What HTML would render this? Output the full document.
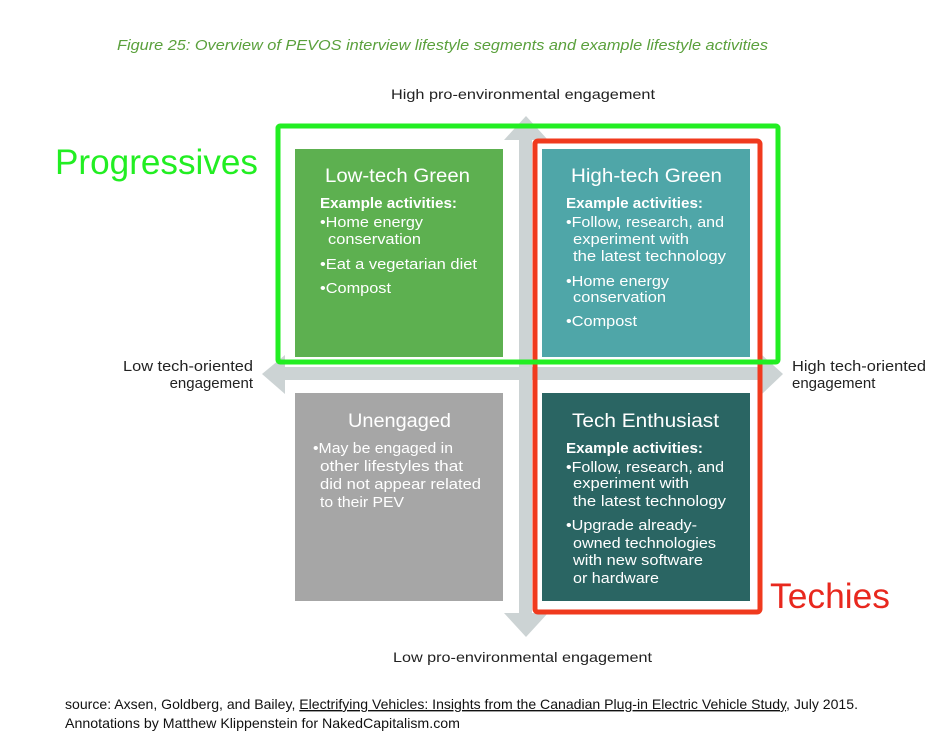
<!DOCTYPE html>
<html><head><style>body{margin:0;background:#fff}svg{display:block}</style></head><body>
<svg width="951" height="740" viewBox="0 0 951 740" xmlns="http://www.w3.org/2000/svg" font-family="Liberation Sans, sans-serif">
<rect width="951" height="740" fill="#fff"/>
<text x="117" y="50" font-size="15" font-style="italic" fill="#5aa03c" textLength="651" lengthAdjust="spacingAndGlyphs">Figure 25: Overview of PEVOS interview lifestyle segments and example lifestyle activities</text>
<text x="391" y="99" font-size="14" fill="#222" textLength="264" lengthAdjust="spacingAndGlyphs">High pro-environmental engagement</text>
<text x="393" y="662" font-size="14" fill="#222" textLength="259" lengthAdjust="spacingAndGlyphs">Low pro-environmental engagement</text>
<g font-size="15" fill="#222">
<text x="123" y="371" textLength="130" lengthAdjust="spacingAndGlyphs">Low tech-oriented</text>
<text x="253" y="388" text-anchor="end">engagement</text>
<text x="792" y="371" textLength="134" lengthAdjust="spacingAndGlyphs">High tech-oriented</text>
<text x="792" y="388">engagement</text>
</g>
<!-- axes -->
<g fill="#ccd3d4">
<rect x="519" y="140" width="13" height="475"/>
<polygon points="504,140 526,116 548,140"/>
<polygon points="504,613 526,637 548,613"/>
<rect x="282" y="367" width="482" height="13"/>
<polygon points="285,355 262,374 285,394"/>
<polygon points="762,355 783,374 762,394"/>
</g>
<!-- boxes -->
<rect x="295" y="149" width="208" height="208" fill="#5db050"/>
<rect x="542" y="149" width="208" height="208" fill="#4fa6a8"/>
<rect x="295" y="393" width="208" height="208" fill="#a6a6a6"/>
<rect x="542" y="393" width="208" height="208" fill="#2a6563"/>
<g fill="#fff">
<text x="325" y="182" font-size="19" textLength="145" lengthAdjust="spacingAndGlyphs">Low-tech Green</text>
<text x="571" y="182" font-size="19" textLength="151" lengthAdjust="spacingAndGlyphs">High-tech Green</text>
<text x="348" y="427" font-size="19" textLength="103" lengthAdjust="spacingAndGlyphs">Unengaged</text>
<text x="572" y="427" font-size="19" textLength="147" lengthAdjust="spacingAndGlyphs">Tech Enthusiast</text>
<g font-size="15" font-weight="bold">
<text x="320" y="208" textLength="137" lengthAdjust="spacingAndGlyphs">Example activities:</text>
<text x="566" y="208" textLength="137" lengthAdjust="spacingAndGlyphs">Example activities:</text>
<text x="566" y="453" textLength="137" lengthAdjust="spacingAndGlyphs">Example activities:</text>
</g>
<g font-size="15">
<text x="320" y="227" textLength="103" lengthAdjust="spacingAndGlyphs">•Home energy</text>
<text x="328" y="244" textLength="93" lengthAdjust="spacingAndGlyphs">conservation</text>
<text x="320" y="269" textLength="157" lengthAdjust="spacingAndGlyphs">•Eat a vegetarian diet</text>
<text x="320" y="293" textLength="71" lengthAdjust="spacingAndGlyphs">•Compost</text>

<text x="566" y="227" textLength="158" lengthAdjust="spacingAndGlyphs">•Follow, research, and</text>
<text x="573" y="244" textLength="116" lengthAdjust="spacingAndGlyphs">experiment with</text>
<text x="573" y="261" textLength="153" lengthAdjust="spacingAndGlyphs">the latest technology</text>
<text x="566" y="286" textLength="103" lengthAdjust="spacingAndGlyphs">•Home energy</text>
<text x="573" y="302" textLength="93" lengthAdjust="spacingAndGlyphs">conservation</text>
<text x="566" y="326" textLength="71" lengthAdjust="spacingAndGlyphs">•Compost</text>

<text x="313" y="453" textLength="140" lengthAdjust="spacingAndGlyphs">•May be engaged in</text>
<text x="320" y="471" textLength="143" lengthAdjust="spacingAndGlyphs">other lifestyles that</text>
<text x="320" y="489" textLength="161" lengthAdjust="spacingAndGlyphs">did not appear related</text>
<text x="320" y="507" textLength="84" lengthAdjust="spacingAndGlyphs">to their PEV</text>

<text x="566" y="472" textLength="158" lengthAdjust="spacingAndGlyphs">•Follow, research, and</text>
<text x="573" y="488" textLength="116" lengthAdjust="spacingAndGlyphs">experiment with</text>
<text x="573" y="506" textLength="153" lengthAdjust="spacingAndGlyphs">the latest technology</text>
<text x="566" y="530" textLength="131" lengthAdjust="spacingAndGlyphs">•Upgrade already-</text>
<text x="573" y="548" textLength="143" lengthAdjust="spacingAndGlyphs">owned technologies</text>
<text x="573" y="565" textLength="130" lengthAdjust="spacingAndGlyphs">with new software</text>
<text x="573" y="583" textLength="86" lengthAdjust="spacingAndGlyphs">or hardware</text>
</g>
</g>
<!-- annotations -->
<rect x="535" y="141" width="225" height="471" rx="3" fill="none" stroke="#f03a1e" stroke-width="5"/>
<rect x="278" y="126" width="500" height="236" rx="2" fill="none" stroke="#22ee22" stroke-width="5"/>
<text x="55" y="174" font-size="35" fill="#22ee22" textLength="203" lengthAdjust="spacingAndGlyphs">Progressives</text>
<text x="770" y="608" font-size="35" fill="#e8281e" textLength="120" lengthAdjust="spacingAndGlyphs">Techies</text>
<g font-size="14" fill="#111">
<text x="65" y="709" textLength="793" lengthAdjust="spacingAndGlyphs">source: Axsen, Goldberg, and Bailey, <tspan text-decoration="underline">Electrifying Vehicles: Insights from the Canadian Plug-in Electric Vehicle Study</tspan>, July 2015.</text>
<text x="65" y="728" textLength="395" lengthAdjust="spacingAndGlyphs">Annotations by Matthew Klippenstein for NakedCapitalism.com</text>
</g>
</svg>
</body></html>
